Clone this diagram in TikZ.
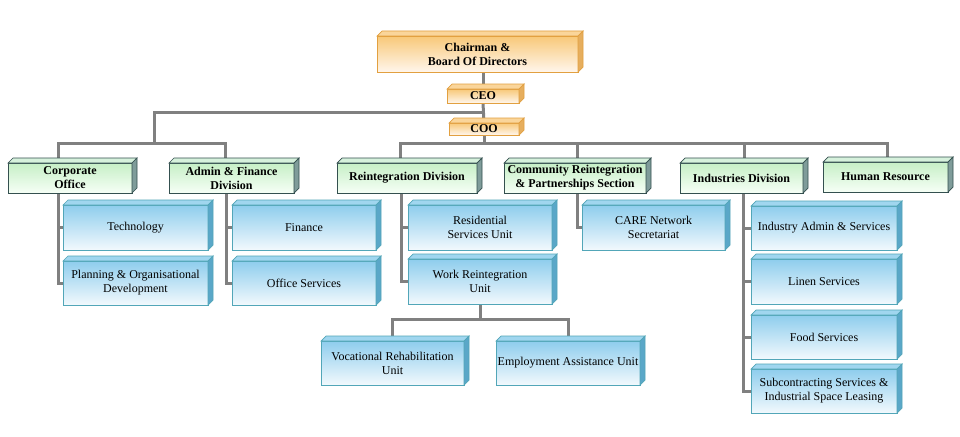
\documentclass[tikz,border=0pt]{standalone}
\usepackage{fontspec}
\setmainfont{Liberation Serif}
\usetikzlibrary{calc,backgrounds}
\definecolor{linegray}{HTML}{808080}
\definecolor{orTop}{HTML}{F8C878}
\definecolor{orBot}{HTML}{FFF6EC}
\definecolor{orBorder}{HTML}{E2A040}
\definecolor{orSide}{HTML}{E6AE5E}
\definecolor{orFace}{HTML}{FAD59A}
\definecolor{grTop}{HTML}{C6EFC6}
\definecolor{grBot}{HTML}{F6FFF6}
\definecolor{grBorder}{HTML}{34504F}
\definecolor{grSide}{HTML}{7F9C9A}
\definecolor{grFace}{HTML}{D6F1DC}
\definecolor{blTop}{HTML}{8ECDED}
\definecolor{blBot}{HTML}{F2F9FD}
\definecolor{blBorder}{HTML}{52A6B8}
\definecolor{blSide}{HTML}{5AA7C8}
\definecolor{blFace}{HTML}{A0D6EF}
\tikzset{
  base/.style={rectangle, inner sep=0pt, outer sep=0pt, line width=0.9pt, align=center,
    font=\fontsize{12}{14}\selectfont},
  orangebox/.style={base, draw=orBorder, top color=orTop, bottom color=orBot, font=\fontsize{12}{14}\selectfont\bfseries},
  orangeboxtop/.style={fill=orFace, draw=orBorder, line width=0.7pt},
  orangeboxside/.style={fill=orSide, draw=orBorder, line width=0.7pt},
  greenbox/.style={base, draw=grBorder, top color=grTop, bottom color=grBot, font=\fontsize{12}{14}\selectfont\bfseries},
  greenboxtop/.style={fill=grFace, draw=grBorder, line width=0.7pt},
  greenboxside/.style={fill=grSide, draw=grBorder, line width=0.7pt},
  bluebox/.style={base, draw=blBorder, top color=blTop, bottom color=blBot},
  blueboxtop/.style={fill=blFace, draw=blBorder, line width=0.7pt},
  blueboxside/.style={fill=blSide, draw=blBorder, line width=0.7pt},
  conn/.style={draw=linegray, line width=3pt}
}
% #1 name, #2 style, #3 x1, #4 y1, #5 x2, #6 y2, #7 text
\newcommand\tdbox[7]{%
  \node[#2, minimum width={#5-#3}, minimum height={#6-#4}] (#1) at ({(#3+#5)/2},{(#4+#6)/2}) {#7};
  \path[#2top] (#1.north west) -- ++(5,-5) -- ([shift={(5,-5)}]#1.north east) -- (#1.north east) -- cycle;
  \path[#2side] (#1.north east) -- ++(5,-5) -- ([shift={(5,-5)}]#1.south east) -- (#1.south east) -- cycle;
}
\begin{document}
\begin{tikzpicture}[x=1pt,y=-1pt]
\begin{scope}[on background layer]
\fill[white] (0,0) rectangle (960,436);
\end{scope}
\useasboundingbox (0,0) rectangle (960,436);

% top
\tdbox{ch}{orangebox}{377}{36}{578}{72}{Chairman \&\\Board Of Directors}
\tdbox{ceo}{orangebox}{447}{89}{519}{103}{CEO}
\tdbox{coo}{orangebox}{449}{123}{519}{135}{COO}

% divisions
\tdbox{co}{greenbox}{8}{163}{132}{193}{Corporate\\Office}
\tdbox{af}{greenbox}{169}{163}{294}{193}{Admin \& Finance\\Division}
\tdbox{rd}{greenbox}{337}{163}{477}{193}{Reintegration Division}
\tdbox{cr}{greenbox}{504}{163}{646}{193}{Community Reintegration\\\& Partnerships Section}
\tdbox{id}{greenbox}{680}{163}{803}{193}{Industries Division}
\tdbox{hr}{greenbox}{823}{162}{948}{192}{Human Resource}

% units
\tdbox{tech}{bluebox}{63}{205}{208}{250}{Technology}
\tdbox{plan}{bluebox}{63}{261}{208}{305}{Planning \& Organisational\\Development}
\tdbox{fin}{bluebox}{232}{205}{376}{250}{Finance}
\tdbox{os}{bluebox}{232}{261}{376}{305}{Office Services}
\tdbox{res}{bluebox}{408}{205}{552}{250}{Residential\\Services Unit}
\tdbox{work}{bluebox}{408}{259}{552}{304}{Work Reintegration\\Unit}
\tdbox{care}{bluebox}{582}{205}{725}{250}{CARE Network\\Secretariat}
\tdbox{ia}{bluebox}{751}{206}{897}{250}{Industry Admin \& Services}
\tdbox{lin}{bluebox}{751}{259}{897}{304}{Linen Services}
\tdbox{food}{bluebox}{751}{315}{897}{359}{Food Services}
\tdbox{sub}{bluebox}{751}{369}{897}{413}{Subcontracting Services \&\\Industrial Space Leasing}
\tdbox{voc}{bluebox}{321}{341}{464}{385}{Vocational Rehabilitation\\Unit}
\tdbox{emp}{bluebox}{496}{341}{640}{385}{Employment Assistance Unit}

\begin{scope}[on background layer]
\coordinate (j1) at (154,112);
\coordinate (j2) at (154,143);
\draw[conn] (ch.south -| ceo.north) -- (ceo.north);
\draw[conn] (ceo.south) -- (coo.north);
\draw[conn] (j1 -| ceo.south) -- (j1) -- (j2);
\draw[conn] ([xshift=-12pt]co.north) -- ++(0,-20) -| ([xshift=-6pt]af.north);
\draw[conn] (coo.south) -- (coo.south |- j2);
\draw[conn] ([xshift=-7pt]rd.north) -- ++(0,-20) -| ([xshift=1.5pt]hr.north);
\draw[conn] ([xshift=2pt]cr.north) -- ++(0,-20);
\draw[conn] ([xshift=2.5pt]id.north) -- ++(0,-20);
% sub lines
\coordinate (cob) at ([xshift=-12pt]co.south);
\draw[conn] (cob) |- (plan.west);
\draw[conn] (cob |- tech.west) -- (tech.west);
\coordinate (afb) at ([xshift=-5pt]af.south);
\draw[conn] (afb) |- (os.west);
\draw[conn] (afb |- fin.west) -- (fin.west);
\coordinate (rdb) at ([xshift=-6pt]rd.south);
\draw[conn] (rdb) |- (work.west);
\draw[conn] (rdb |- res.west) -- (res.west);
\draw[conn] ([xshift=2pt]cr.south) |- (care.west);
\coordinate (idb) at ([xshift=2pt]id.south);
\draw[conn] (idb) |- (sub.west);
\draw[conn] (idb |- ia.west) -- (ia.west);
\draw[conn] (idb |- lin.west) -- (lin.west);
\draw[conn] (idb |- food.west) -- (food.west);
\coordinate (wj) at ($(work.south)+(0,15)$);
\draw[conn] (work.south) -- (wj);
\draw[conn] (voc.north) |- (wj) -| (emp.north);
\end{scope}
\end{tikzpicture}
\end{document}
